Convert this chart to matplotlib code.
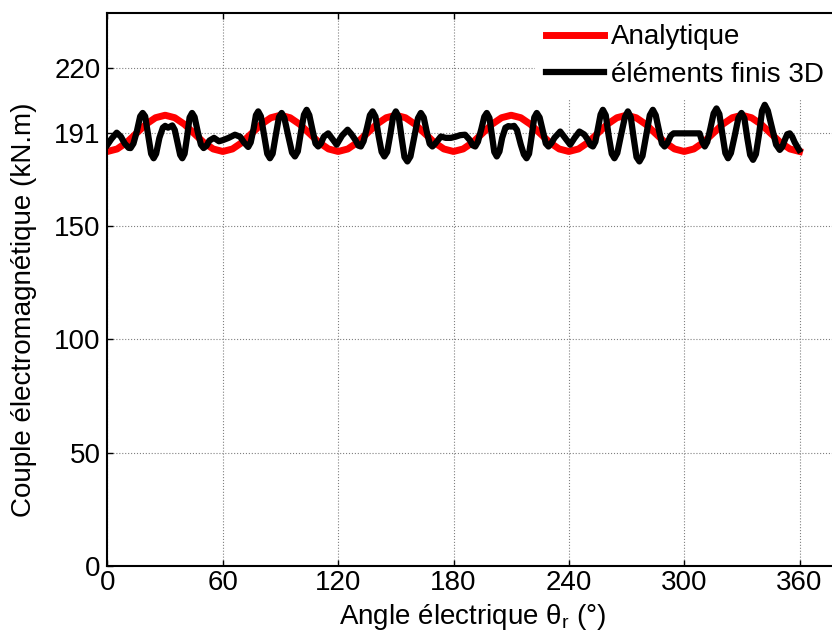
import matplotlib
matplotlib.use("Agg")
import matplotlib.pyplot as plt
import numpy as np

plt.rcParams['font.family'] = ['Liberation Sans', 'DejaVu Sans']
plt.rcParams['mathtext.fontset'] = 'custom'
plt.rcParams['mathtext.rm'] = 'Liberation Sans'
plt.rcParams['mathtext.it'] = 'Liberation Sans'

# analytical torque, read every 5 deg
ana_deg = list(range(0, 361, 5))
ana_period = [183, 184.1, 187, 191, 195, 197.9, 199, 197.9, 195, 191, 187, 184.1]
ana_val = (ana_period * 6) + [183]

# 3D finite element torque
fe_deg = [0, 2, 4.8, 7, 9, 11, 12, 13.5, 15.3, 17, 18.3, 19.6, 21.2, 22.7, 24, 25.3, 27, 28.8, 30, 31.5,
          33.7, 35, 36.5, 37.8, 38.9, 40.1, 41.5, 42.7, 44, 45.3, 47, 48.6, 50, 51.5, 53, 55.4, 58, 60,
          63, 66.3, 69, 71, 73.2, 74.5, 76, 77.2, 78.4, 79.8, 81.5, 83.1, 84.5, 85.9, 87.5, 89.2, 90.6,
          92, 94, 96, 97.5, 99, 100.5, 102.2, 103.6, 105, 106.5, 108.2, 109.6, 111, 112.5, 114.8, 117,
          119.2, 122, 124.9, 127, 129, 130.5, 131.8, 133.2, 135, 136.5, 137.9, 139.4, 141, 142.6, 144,
          145.5, 147, 148.6, 150, 151.5, 153, 154.5, 156, 157.6, 159.5, 161.5, 163, 164.5, 166, 167.6,
          169, 170.5, 173.4, 176, 178.6, 181, 183.5, 186, 188.5, 190, 191.3, 192.7, 194.5, 196, 197.3,
          198.7, 200, 201.2, 202.5, 203.9, 205.3, 207, 208.5, 210, 211.5, 213, 215, 216.6, 218, 219.3,
          220.7, 222, 223.3, 224.8, 226.5, 228, 229.4, 231, 232.5, 235.5, 238, 240.7, 243, 245.5, 248,
          250, 251.3, 252.5, 253.8, 255.2, 256.5, 257.7, 259.2, 260.7, 262.3, 263.7, 265.2, 267.2,
          269.2, 270.7, 272.2, 273.7, 275.2, 276.7, 278.3, 280.2, 282.1, 283.7, 285.2, 286.7, 288.4,
          289.8, 291.3, 293, 294.5, 300, 308, 309.5, 310.7, 312, 313.7, 315.3, 316.8, 318.3, 319.8,
          321.4, 322.8, 324.3, 326.3, 328.2, 329.8, 331.3, 332.8, 334.3, 335.8, 337.3, 339, 340.5,
          341.9, 343.5, 345.8, 347.8, 349.7, 351, 352.3, 353.6, 354.9, 356.2, 357.5, 359.8]
fe_val = [186, 188.5, 191.3, 189.5, 186.5, 184.6, 184.5, 186.5, 192, 198.5, 200, 198.5, 190, 182, 180, 182, 189, 193.5, 194.3, 193.5,
          194.5, 192.5, 186.5, 181.5, 180, 182, 190, 198, 200, 198.2, 191.5, 186, 184.5, 185.5, 187.8, 189, 187.5, 188,
          189, 190.4, 189.5, 187, 185, 187, 193, 199, 200.7, 198.5, 190, 182, 180, 182, 190, 198.2, 200,
          197.8, 190, 182.5, 180.8, 183, 191, 199.2, 201.4, 199, 193, 186.5, 185.2, 186.5, 189.5, 191, 188.5,
          186, 190, 192.6, 190.5, 188, 185.6, 185.2, 187.5, 193.5, 199, 200.7, 198.4, 190, 182.8, 180.8,
          182.8, 190, 198.4, 200.7, 198.2, 189, 180.5, 178.6, 180.8, 189, 197.7, 200, 198, 192, 186.4,
          185.2, 186.5, 189.6, 189, 189, 189.5, 190.2, 190.4, 188, 185.7, 185.2, 187.3, 193, 198.3, 200,
          197.8, 190, 182.8, 180.8, 183, 189, 193.5, 194.2, 194, 194.3, 192.5, 186, 181.7, 180, 182,
          190, 198, 200, 198, 192, 186.5, 185.2, 186.8, 189, 191.8, 189, 186, 189, 191.8, 190.5,
          188, 185.8, 185.2, 187.3, 193.5, 199.3, 201.4, 199, 190, 182, 180, 182.3, 190.5,
          198.3, 200.7, 198.2, 189, 180.5, 178.6, 181, 190, 199, 201.4, 199, 193, 186.5,
          185.2, 186.8, 190, 191, 191, 191, 187, 185.2, 187.2, 193.5, 199.8, 202, 199.5, 191,
          182.3, 180, 182.3, 190, 197.8, 200, 197.6, 189, 181.5, 179.3, 181.8, 191, 201,
          203.6, 201, 193, 186, 183.7, 185, 188, 190.6, 191, 189.5, 187, 183.7]

xticks = [0, 60, 120, 180, 240, 300, 360]
yticks = [0, 50, 100, 150, 191, 220]

fig = plt.figure(figsize=(8.32, 6.39), dpi=100)
ax = fig.add_axes([0.1292, 0.1142, 0.878, 0.865])

ax.plot(ana_deg, ana_val, color='red', lw=5, label='Analytique', solid_joinstyle='round')
ax.plot(fe_deg, fe_val, color='black', lw=4.5, label='éléments finis 3D', solid_joinstyle='round')

ax.set_xlim(0, 380)
ax.set_ylim(0, 244)
ax.set_xticks(xticks)
ax.set_yticks(yticks)
ax.grid(True, color='0.5', linestyle=':', linewidth=0.8)
ax.tick_params(direction='in', top=True, right=True, length=4, labelsize=20, width=1)
ax.tick_params(axis='y', pad=5)
ax.tick_params(axis='x', pad=3)
for s in ax.spines.values():
    s.set_linewidth(1.5)

ax.set_xlabel(r'Angle électrique $\mathrm{\theta}_\mathrm{r}$ (°)', fontsize=20, labelpad=4)
ax.set_ylabel('Couple électromagnétique (kN.m)', fontsize=20)
ax.yaxis.set_label_coords(-0.097, 0.463)

leg = ax.legend(loc='upper left', bbox_to_anchor=(0.566, 1.025), fontsize=20, frameon=True,
                edgecolor='white', framealpha=1, fancybox=False, handlelength=2.1,
                handletextpad=0.25, labelspacing=0.42, borderpad=0.4)
leg.get_frame().set_linewidth(0)
leg.set_zorder(2.2)

fig.savefig('out.png', dpi=100)
